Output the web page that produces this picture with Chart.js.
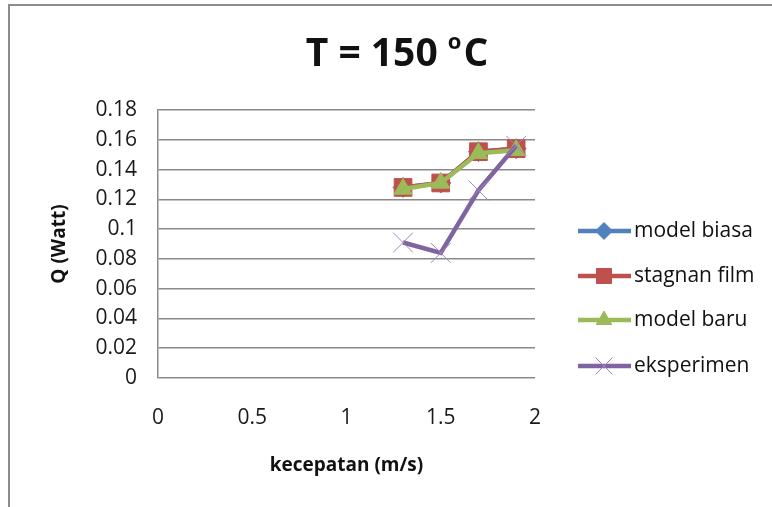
<!DOCTYPE html>
<html>
<head>
<meta charset="utf-8">
<script src="https://cdn.jsdelivr.net/npm/chart.js@4.4.1/dist/chart.umd.min.js"></script>
<style>
  html, body { margin: 0; padding: 0; background: #fff; overflow: hidden; }
  #wrap { position: relative; width: 772px; height: 507px; overflow: hidden; }
  #frame { position: absolute; left: 8px; top: 4px; width: 800px; height: 600px; border: 2px solid #8c8c8c; pointer-events: none; }
  canvas { position: absolute; left: 0; top: 0; }
</style>
</head>
<body>
<div id="wrap">
  <canvas id="chart" width="772" height="507"></canvas>
  <div id="frame"></div>
</div>
<script>
// kecepatan (m/s) vs Q (Watt) pada T = 150 C
const kecepatan = [1.3, 1.5, 1.7, 1.9];
const modelBiasa = [0.128, 0.131, 0.152, 0.154];
const stagnanFilm = [0.128, 0.131, 0.152, 0.154];
const modelBaru = [0.127, 0.131, 0.151, 0.153];
const eksperimen = [0.091, 0.084, 0.126, 0.156];

const xTicks = [0, 0.5, 1, 1.5, 2];
const yTicks = [0, 0.02, 0.04, 0.06, 0.08, 0.1, 0.12, 0.14, 0.16, 0.18];
const seriesNames = ['model biasa', 'stagnan film', 'model baru', 'eksperimen'];

const FONT = '"Open Sans", "Noto Sans", sans-serif';

function pts(ys) {
  return kecepatan.map((x, i) => ({ x: x, y: ys[i] }));
}

// judul dengan "o" kecil terangkat
const titlePlugin = {
  id: 'judul',
  afterDraw(chart) {
    const ctx = chart.ctx;
    ctx.save();
    ctx.fillStyle = '#111';
    ctx.textBaseline = 'alphabetic';
    const big = 'bold 39px ' + FONT;
    const small = 'bold 22px ' + FONT;
    ctx.font = big;
    const w1 = ctx.measureText('T = 150 ').width;
    const w3 = ctx.measureText('C').width;
    ctx.font = small;
    const w2 = ctx.measureText('o').width + 2;
    let x = 397 - (w1 + w2 + w3) / 2;
    const y = 66;
    ctx.font = big;
    ctx.fillText('T = 150 ', x, y);
    x += w1;
    ctx.font = small;
    ctx.fillText('o', x, y - 17);
    x += w2;
    ctx.font = big;
    ctx.fillText('C', x, y);
    ctx.restore();
  }
};

// legenda: garis + marker seperti di Excel
const legendPlugin = {
  id: 'legendaGaris',
  afterDraw(chart) {
    const ctx = chart.ctx;
    const rows = [231, 276, 320, 366];
    chart.data.datasets.forEach((ds, i) => {
      const y = rows[i];
      ctx.save();
      ctx.strokeStyle = ds.borderColor;
      ctx.lineWidth = ds.borderWidth;
      ctx.beginPath();
      ctx.moveTo(578, y);
      ctx.lineTo(631, y);
      ctx.stroke();
      ctx.fillStyle = ds.pointBackgroundColor;
      ctx.strokeStyle = ds.pointBorderColor;
      ctx.lineWidth = ds.pointBorderWidth;
      Chart.helpers.drawPoint(ctx, {
        pointStyle: ds.pointStyle,
        radius: ds.pointRadius * 0.85,
        rotation: 0,
        borderWidth: ds.pointBorderWidth
      }, 604, y);
      ctx.fillStyle = '#111';
      ctx.font = '21px ' + FONT;
      ctx.textBaseline = 'middle';
      ctx.fillText(ds.label, 634, y);
      ctx.restore();
    });
  }
};

new Chart(document.getElementById('chart'), {
  type: 'line',
  data: {
    datasets: [
      {
        label: seriesNames[0],
        data: pts(modelBiasa),
        borderColor: '#4F81BD',
        borderWidth: 4.5,
        pointStyle: 'rectRot',
        pointRadius: 10,
        pointBackgroundColor: '#4F81BD',
        pointBorderColor: '#4F81BD',
        pointBorderWidth: 1,
        order: 4
      },
      {
        label: seriesNames[1],
        data: pts(stagnanFilm),
        borderColor: '#C0504D',
        borderWidth: 4.5,
        pointStyle: 'rect',
        pointRadius: 12.5,
        pointBackgroundColor: '#C0504D',
        pointBorderColor: '#C0504D',
        pointBorderWidth: 1,
        order: 3
      },
      {
        label: seriesNames[2],
        data: pts(modelBaru),
        borderColor: '#9BBB59',
        borderWidth: 4.5,
        pointStyle: 'triangle',
        pointRadius: 10.5,
        pointBackgroundColor: '#9BBB59',
        pointBorderColor: '#9BBB59',
        pointBorderWidth: 1,
        order: 2
      },
      {
        label: seriesNames[3],
        data: pts(eksperimen),
        borderColor: '#8064A2',
        borderWidth: 4.5,
        pointStyle: 'crossRot',
        pointRadius: 14,
        pointBackgroundColor: '#8064A2',
        pointBorderColor: '#9d86bd',
        pointBorderWidth: 1,
        order: 1
      }
    ]
  },
  options: {
    responsive: false,
    animation: false,
    layout: { padding: { top: 110, right: 237, left: 0, bottom: 0 } },
    plugins: {
      legend: { display: false },
      title: { display: false },
      tooltip: { enabled: false }
    },
    scales: {
      x: {
        type: 'linear',
        min: 0,
        max: 2,
        afterBuildTicks: (scale) => { scale.ticks = xTicks.map(v => ({ value: v })); },
        afterFit: (scale) => { scale.height = 129; },
        grid: { display: false, drawTicks: false },
        border: { display: false },
        ticks: {
          padding: 27,
          color: '#1a1a1a',
          font: { family: FONT, size: 21 },
          callback: (v) => String(v)
        },
        title: {
          display: true,
          text: 'kecepatan (m/s)',
          color: '#111',
          font: { family: FONT, size: 19, weight: 'bold' },
          padding: { top: 0, bottom: 30 }
        }
      },
      y: {
        type: 'linear',
        min: 0,
        max: 0.18,
        afterBuildTicks: (scale) => { scale.ticks = yTicks.map(v => ({ value: v })); },
        afterFit: (scale) => { scale.width = 158; },
        grid: { color: '#8a8a8a', lineWidth: 1.5, drawTicks: false },
        border: { display: true, color: '#8a8a8a', width: 1.5 },
        ticks: {
          padding: 21,
          color: '#1a1a1a',
          font: { family: FONT, size: 21 },
          callback: (v) => String(Number(v.toFixed(2)))
        },
        title: {
          display: true,
          text: 'Q (Watt)',
          color: '#111',
          font: { family: FONT, size: 19, weight: 'bold' },
          padding: { top: 48, bottom: 0 }
        }
      }
    }
  },
  plugins: [titlePlugin, legendPlugin]
});
</script>
</body>
</html>
